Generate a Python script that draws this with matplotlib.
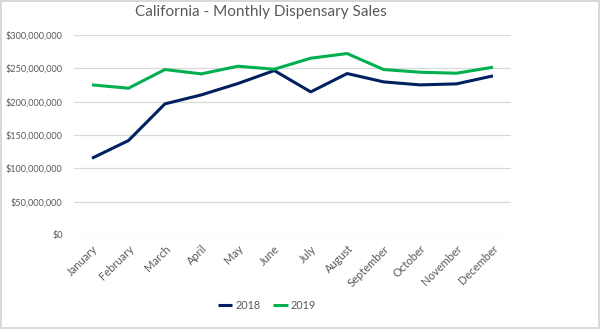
import matplotlib.pyplot as plt
from matplotlib.ticker import FuncFormatter, MultipleLocator

plt.rcParams['font.family'] = ['Lato', 'DejaVu Sans']

# months on the x axis
months = ['January', 'February', 'March', 'April', 'May', 'June', 'July',
          'August', 'September', 'October', 'November', 'December']
# monthly sales, dollars
sales_2018 = [115e6, 141.5e6, 196.5e6, 210e6, 227e6, 246.5e6, 214.5e6,
              242e6, 229.5e6, 225e6, 226.5e6, 238.5e6]
sales_2019 = [225e6, 220e6, 248e6, 241.5e6, 253e6, 248.5e6, 265e6,
              272e6, 248e6, 244e6, 242.5e6, 251.5e6]

txt = '#595959'

fig = plt.figure(figsize=(6, 3.29), dpi=100)
fig.patch.set_edgecolor('#D9D9D9')
fig.patch.set_linewidth(1.5)
ax = fig.add_axes([0.123, 0.286, 0.729, 0.608])

x = range(len(months))
ax.plot(x, sales_2018, color='#002060', lw=2.2, label='2018', solid_capstyle='butt')
ax.plot(x, sales_2019, color='#00B050', lw=2.2, label='2019', solid_capstyle='butt')

ax.set_xlim(-0.5, len(months) - 0.5)
ax.set_ylim(0, 300e6)
ax.yaxis.set_major_locator(MultipleLocator(50e6))
ax.yaxis.set_major_formatter(FuncFormatter(lambda v, p: '${:,.0f}'.format(v)))
ax.grid(axis='y', color='#D9D9D9', lw=0.9)
ax.set_axisbelow(True)
for s in ax.spines.values():
    s.set_visible(False)
ax.tick_params(length=0, colors=txt)
ax.tick_params(axis='y', labelsize=6.6, pad=8)
ax.set_xticks(list(x))
ax.set_xticklabels(months, rotation=45, ha='right', rotation_mode='anchor')
ax.tick_params(axis='x', labelsize=8, pad=6)

fig.suptitle('California - Monthly Dispensary Sales', x=0.435, y=0.985,
             color=txt, fontsize=11)
fig.legend(loc='lower center', bbox_to_anchor=(0.445, 0.025), ncol=2, frameon=False,
           fontsize=7.8, labelcolor=txt, handlelength=1.3, handletextpad=0.3,
           columnspacing=1.2)

fig.savefig('out.png', dpi=100)
